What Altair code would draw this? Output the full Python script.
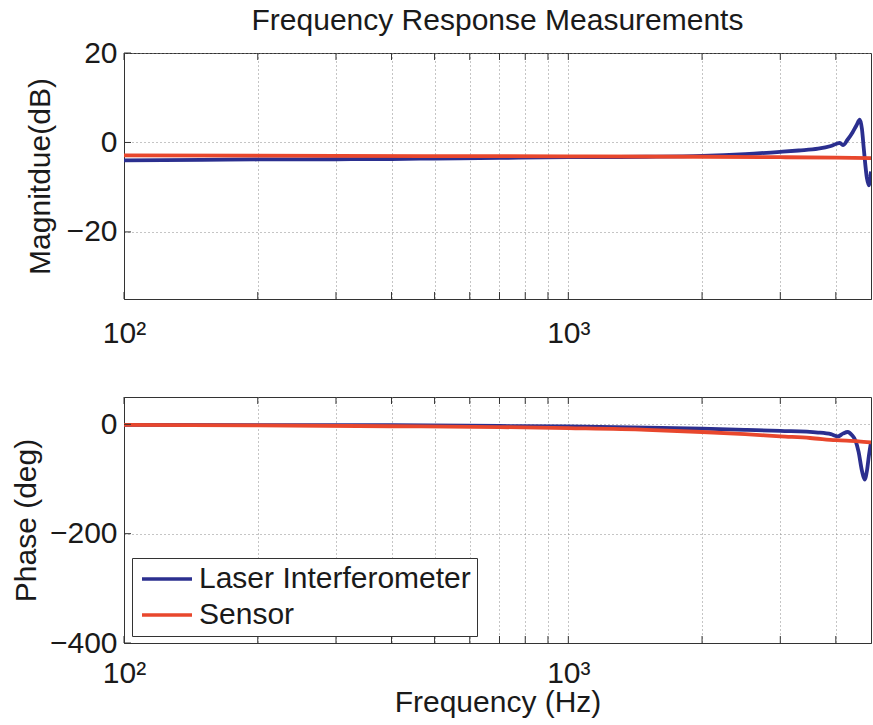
import altair as alt
import pandas as pd

FONT = "Liberation Sans"
BLUE = "#2b2f8f"
RED = "#e8472d"
SERIES = ["Laser Interferometer", "Sensor"]

# ---- Magnitude (dB) ----
mag_laser_f = [100, 150, 200, 300, 400, 500, 700, 1000, 1500, 2000, 2500, 3000, 3300, 3650,
               3900, 4085, 4150, 4250, 4365, 4450, 4530, 4580, 4625, 4700, 4747, 4800]
mag_laser = [-4.0, -3.9, -3.8, -3.75, -3.7, -3.6, -3.45, -3.3, -3.2, -3.0, -2.6, -2.1, -1.8, -1.4,
             -0.8, -0.1, -0.6, 0.6, 2.3, 3.8, 5.1, 3.0, -1.5, -8.0, -9.6, -6.5]
mag_sensor_f = [100, 300, 1000, 2000, 3000, 4000, 4800]
mag_sensor = [-2.9, -3.0, -3.1, -3.2, -3.3, -3.4, -3.5]

# ---- Phase (deg) ----
ph_laser_f = [100, 200, 400, 700, 1000, 1500, 2000, 2500, 3000, 3650, 3900, 4045, 4150, 4256,
              4350, 4436, 4500, 4580, 4645, 4700, 4747, 4800]
ph_laser = [-1, -1.5, -1.5, -3, -4, -6, -8, -10, -12, -15, -18, -22, -17, -14,
            -20, -31, -50, -85, -101, -85, -58, -33]
ph_sensor_f = [100, 200, 400, 700, 1000, 1500, 2000, 2500, 3000, 3500, 4000, 4500, 4800]
ph_sensor = [-1, -2, -3.5, -5, -7, -10, -14, -18, -22, -25, -29, -31, -33]

# ---- axes ----
x_major = [100, 1000]
x_minor = [200, 300, 400, 500, 600, 700, 800, 900, 2000, 3000, 4000]
x_domain = [100, 4800]
mag_ticks = [-20, 0, 20]
mag_domain = [-35, 20]
ph_ticks = [-400, -200, 0]
ph_domain = [-400, 50]

W = 747
H_TOP = 246
H_BOT = 246


def lines_df(f1, v1, f2, v2):
    return pd.DataFrame({
        "f": f1 + f2,
        "v": v1 + v2,
        "s": [SERIES[0]] * len(f1) + [SERIES[1]] * len(f2),
    })


xticks_df = pd.DataFrame({"f": x_major + x_minor})


def panel(df, ydomain, yticks, ytitle, height, title_x, bottom, legend):
    xscale = alt.Scale(type="log", domain=x_domain, nice=False)
    yscale = alt.Scale(domain=ydomain, nice=False, zero=False)
    xaxis = alt.Axis(
        values=x_major + x_minor,
        labelExpr="datum.value == 100 ? '10²' : datum.value == 1000 ? '10³' : ''",
        grid=True, ticks=False, tickSize=0, labelPadding=15 if bottom else 19,
        labelFlush=False, labelBaseline="top",
        title="Frequency (Hz)" if bottom else None,
        titleY=68, titleBaseline="alphabetic",
    )
    yaxis = alt.Axis(
        values=yticks, format="d", grid=True, ticks=False, tickSize=0, labelPadding=7,
        title=ytitle, titleX=title_x, titleY=height / 2, titleAngle=270,
        titleBaseline="alphabetic", titleAlign="center",
    )
    color = alt.Color(
        "s:N",
        scale=alt.Scale(domain=SERIES, range=[BLUE, RED]),
        legend=alt.Legend(
            orient="none", legendX=8, legendY=161, title=None,
            labelFont=FONT, labelFontSize=30, labelColor="#1a1a1a", labelLimit=500,
            symbolType="M-2.5,0H2.5", symbolSize=400, symbolStrokeWidth=3.5,
            symbolOffset=14, labelOffset=17, rowPadding=6, padding=6,
            strokeColor="#333333", fillColor="white",
        ) if legend else None,
        sort=SERIES,
    )
    line = alt.Chart(df).mark_line(strokeWidth=3.8, clip=True, interpolate="monotone").encode(
        x=alt.X("f:Q", scale=xscale, axis=xaxis),
        y=alt.Y("v:Q", scale=yscale, axis=yaxis),
        color=color,
        order=alt.Order("f:Q"),
    )
    base_t = alt.Chart(xticks_df)
    bot_t = base_t.mark_rule(color="#333333", strokeWidth=1).encode(
        x=alt.X("f:Q", scale=xscale),
        y=alt.value(height),
        y2=alt.YValue(height - 7),
    )
    top_t = base_t.mark_rule(color="#333333", strokeWidth=1).encode(
        x=alt.X("f:Q", scale=xscale),
        y=alt.value(0),
        y2=alt.YValue(7),
    )
    yt_df = pd.DataFrame({"v": yticks})
    y_t = alt.Chart(yt_df).mark_rule(color="#333333", strokeWidth=1).encode(
        y=alt.Y("v:Q", scale=yscale),
        x=alt.value(0),
        x2=alt.XValue(7),
    )
    return alt.layer(line, bot_t, top_t, y_t).properties(width=W, height=height)


top = panel(lines_df(mag_laser_f, mag_laser, mag_sensor_f, mag_sensor),
            mag_domain, mag_ticks, "Magnitdue(dB)", H_TOP, -75, False, False).properties(
    title=alt.Title("Frequency Response Measurements", font=FONT, fontSize=30,
                    fontWeight="normal", color="#1a1a1a", anchor="middle", offset=2)
)
bottom = panel(lines_df(ph_laser_f, ph_laser, ph_sensor_f, ph_sensor),
               ph_domain, ph_ticks, "Phase (deg)", H_BOT, -89, True, True)

chart = alt.vconcat(top, bottom, spacing=98, bounds="flush").resolve_legend(
    color="independent"
).properties(
    padding={"left": 10, "top": 5, "right": 0, "bottom": 0},
    background="white",
).configure_view(
    stroke="#333333", strokeWidth=1
).configure_axis(
    labelFont=FONT, labelFontSize=30, labelColor="#1a1a1a",
    titleFont=FONT, titleFontSize=30, titleFontWeight="normal", titleColor="#1a1a1a",
    domainColor="#333333", domainWidth=1,
    gridColor="#8a8a8a", gridDash=[1, 3], gridWidth=1, gridOpacity=1,
)

chart.save("out.html", embed_options={"renderer": "svg", "actions": False})
